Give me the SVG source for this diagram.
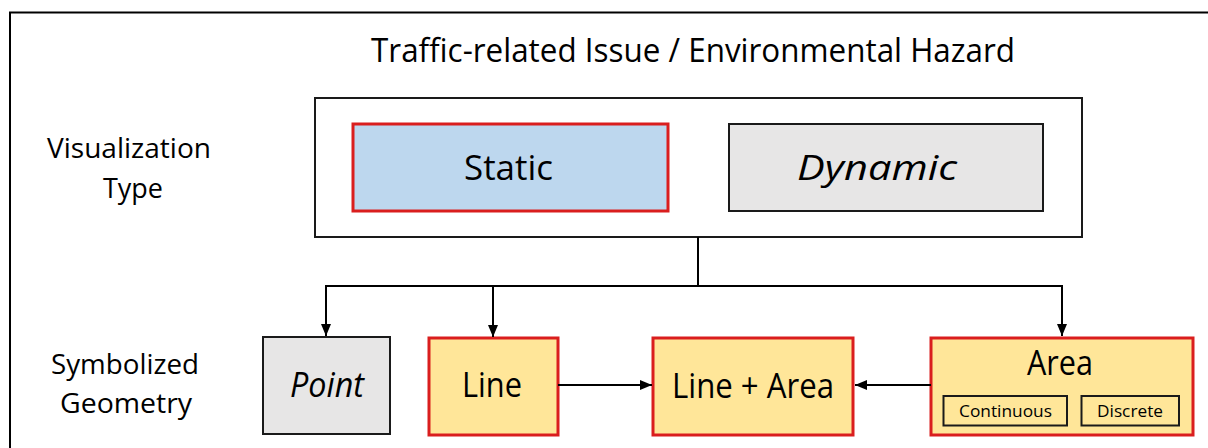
<svg xmlns="http://www.w3.org/2000/svg" width="1208" height="448" viewBox="0 0 1208 448">
<style>
  text { font-family: "Open Sans", "Noto Sans", sans-serif; fill: #000; }
  .lbl { font-size: 28px; text-anchor: middle; }
  .big { font-size: 35px; text-anchor: middle; }
  .small { font-size: 17px; text-anchor: middle; }
  .it { font-style: italic; }
  .red { stroke: #DA1E1E; stroke-width: 3; }
  .blk { stroke: #1a1a1a; stroke-width: 2; }
  .conn { stroke: #000; stroke-width: 2; fill: none; }
</style>
<defs>
  <marker id="ah" viewBox="0 0 12 10" refX="12" refY="5" markerWidth="12" markerHeight="10" markerUnits="userSpaceOnUse" orient="auto">
    <path d="M0,0 L12,5 L0,10 Z" fill="#000"/>
  </marker>
</defs>
<rect width="1208" height="448" fill="#fff"/>
<path d="M10,448 V12.5 H1208" fill="none" stroke="#000" stroke-width="2"/>
<text x="693" y="62" font-size="33" text-anchor="middle" textLength="644" lengthAdjust="spacingAndGlyphs">Traffic-related Issue / Environmental Hazard</text>
<g id="label-vis">
  <text class="lbl" x="129" y="158" textLength="164" lengthAdjust="spacingAndGlyphs">Visualization</text>
  <text class="lbl" x="133" y="198" textLength="60" lengthAdjust="spacingAndGlyphs">Type</text>
</g>
<g id="label-geom">
  <text class="lbl" x="125" y="374" textLength="148" lengthAdjust="spacingAndGlyphs">Symbolized</text>
  <text class="lbl" x="126" y="413" textLength="132" lengthAdjust="spacingAndGlyphs">Geometry</text>
</g>
<g id="vis-type">
  <rect x="315" y="98" width="767" height="139" fill="#fff" class="blk"/>
</g>
<g id="static">
  <rect x="353" y="124" width="315" height="87" fill="#BDD7EE" class="red"/>
  <text class="big" x="508.5" y="180" textLength="89" lengthAdjust="spacingAndGlyphs">Static</text>
</g>
<g id="dynamic">
  <rect x="729" y="124" width="314" height="87" fill="#E7E6E6" class="blk"/>
  <text class="big it" x="877" y="180" textLength="160" lengthAdjust="spacingAndGlyphs">Dynamic</text>
</g>
<g id="point">
  <rect x="263" y="337" width="127" height="97" fill="#E7E6E6" class="blk"/>
  <text class="big it" x="327" y="397" textLength="74" lengthAdjust="spacingAndGlyphs">Point</text>
</g>
<g id="line">
  <rect x="429" y="338" width="129" height="97" fill="#FFE699" class="red"/>
  <text class="big" x="492" y="397" textLength="60" lengthAdjust="spacingAndGlyphs">Line</text>
</g>
<g id="line-area">
  <rect x="653" y="338" width="200" height="97" fill="#FFE699" class="red"/>
  <text class="big" x="753" y="398" textLength="162" lengthAdjust="spacingAndGlyphs">Line + Area</text>
</g>
<g id="area">
  <rect x="931" y="338" width="262" height="97" fill="#FFE699" class="red"/>
  <text class="big" x="1060" y="375" textLength="66" lengthAdjust="spacingAndGlyphs">Area</text>
  <rect x="943.5" y="396" width="123.5" height="29.5" fill="#FFE699" class="blk"/>
  <text class="small" x="1005.5" y="417" textLength="93" lengthAdjust="spacingAndGlyphs">Continuous</text>
  <rect x="1081.5" y="396" width="97.5" height="29.5" fill="#FFE699" class="blk"/>
  <text class="small" x="1130" y="417" textLength="66" lengthAdjust="spacingAndGlyphs">Discrete</text>
</g>
<g id="connectors">
  <path class="conn" d="M698,237 V286"/>
  <path class="conn" d="M326,286 H1062"/>
  <path class="conn" d="M326,285 V336" marker-end="url(#ah)"/>
  <path class="conn" d="M493,286 V337" marker-end="url(#ah)"/>
  <path class="conn" d="M1062,285 V336" marker-end="url(#ah)"/>
  <path class="conn" d="M558,385 H652" marker-end="url(#ah)"/>
  <path class="conn" d="M931,385 H855" marker-end="url(#ah)"/>
</g>
</svg>
